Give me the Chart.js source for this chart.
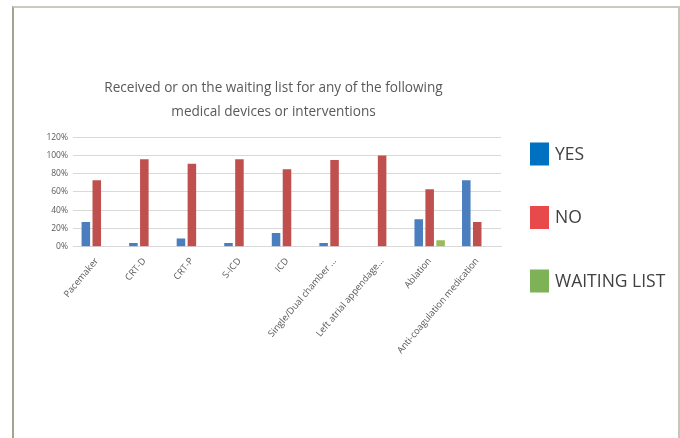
<!DOCTYPE html>
<html>
<head>
<meta charset="utf-8">
<script src="https://cdn.jsdelivr.net/npm/chart.js@4"></script>
<style>
	body { margin: 0; background: #fff; overflow: hidden; }
	#frame {
		position: absolute; left: 12px; top: 6px; width: 664px; height: 460px;
		border-left: 2px solid #a3a48f; border-top: 2px solid #cacbbf; border-right: 2px solid #c6c7b9;
	}
	#wrap { position: absolute; left: 0; top: 0; width: 680px; height: 438px; }
</style>
</head>
<body>
<div id="frame"></div>
<div id="wrap"><canvas id="devices"></canvas></div>
<script>
const categories = [
	"Pacemaker", "CRT-D", "CRT-P", "S-ICD", "ICD",
	"Single/Dual chamber ...", "Left atrial appendage...", "Ablation", "Anti-coagulation medication"
];
const yesValues = [27, 4, 9, 4, 15, 4, 0, 30, 73];
const noValues = [73, 96, 91, 96, 85, 95, 100, 63, 27];
const waitingValues = [0, 0, 0, 0, 0, 0, 0, 7, 0];
const yTicks = [0, 20, 40, 60, 80, 100, 120];
const titleLines = ["Received or on the waiting list for any of the following", "medical devices or interventions"];

const barColors = ["#4a7ebf", "#c0504d", "#9bbb59"];
const legendColors = ["#0070c0", "#e8494b", "#7db257"];
const fontFamily = "'Open Sans', sans-serif";
const textColor = "#595959";

// legend drawn to the right of the plot, like the original
const sideLegend = {
	id: "sideLegend",
	afterDraw(chart) {
		const ctx = chart.ctx;
		ctx.save();
		ctx.font = "17.5px " + fontFamily;
		ctx.textBaseline = "middle";
		chart.data.datasets.forEach((ds, i) => {
			const cy = 154 + i * 63.5;
			ctx.fillStyle = legendColors[i];
			ctx.fillRect(530, cy - 11.5, 19, 23);
			ctx.fillStyle = "#404040";
			ctx.fillText(ds.label, 555, cy + 1);
		});
		ctx.restore();
	},
};

const canvas = document.getElementById("devices");
let myChart = new Chart(canvas, {
	type: "bar",
	data: {
		labels: categories,
		datasets: [
			{ label: "YES", data: yesValues, backgroundColor: barColors[0] },
			{ label: "NO", data: noValues, backgroundColor: barColors[1] },
			{ label: "WAITING LIST", data: waitingValues, backgroundColor: barColors[2] },
		],
	},
	options: {
		responsive: true,
		maintainAspectRatio: false,
		animation: false,
		categoryPercentage: 0.69,
		barPercentage: 0.78,
		layout: {
			padding: { left: 46, right: 179, top: 0, bottom: 73 },
		},
		scales: {
			y: {
				min: 0,
				max: 120,
				border: { display: false },
				grid: { color: "#d9d9d9", drawTicks: false },
				afterBuildTicks: (scale) => {
					scale.ticks = yTicks.map((v) => ({ value: v }));
				},
				afterFit: (scale) => {
					scale.width = 27;
				},
				ticks: {
					padding: 5,
					color: textColor,
					font: { family: fontFamily, size: 8.5 },
					callback: (v) => v + "%",
				},
			},
			x: {
				border: { display: true, color: "#d9d9d9" },
				grid: { display: false, drawTicks: false },
				ticks: {
					minRotation: 50,
					maxRotation: 50,
					padding: 9,
					color: textColor,
					font: { family: fontFamily, size: 9.3 },
				},
			},
		},
		plugins: {
			legend: { display: false },
			tooltip: { enabled: false },
			title: {
				display: true,
				text: titleLines,
				color: textColor,
				font: { family: fontFamily, size: 13.6, weight: "normal", lineHeight: 1.7 },
				padding: { top: 77, bottom: 14 },
			},
		},
	},
	plugins: [sideLegend],
});
</script>
</body>
</html>
